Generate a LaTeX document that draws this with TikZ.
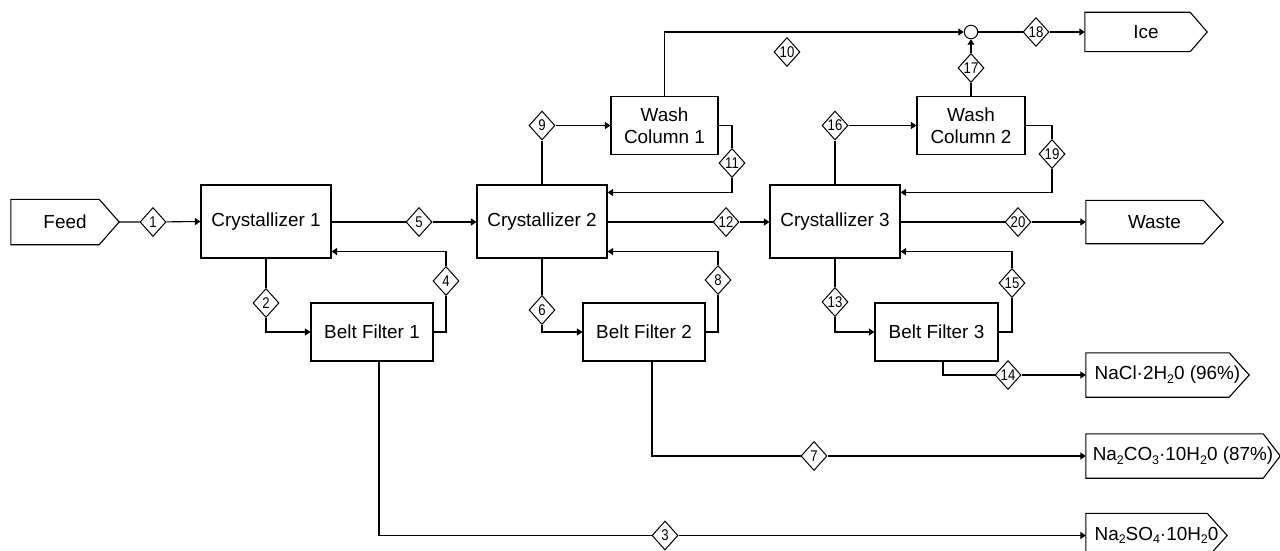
\documentclass[tikz,border=0pt]{standalone}
\usepackage{fontspec}
\setmainfont{Liberation Sans}
\usetikzlibrary{arrows.meta,shapes.geometric,calc}
\newcommand\subs[1]{\raisebox{-0.35ex}{\fontsize{12.5}{12}\selectfont #1}}
\newcommand\dg[1]{\scalebox{0.85}[1]{#1}}
\newcommand\portpath[2]{\draw[ln] (#1.north west) -- ([xshift=-#2]#1.north east) -- (#1.east) -- ([xshift=-#2]#1.south east) -- (#1.south west) -- cycle;}
\tikzset{
  ln/.style={line width=1.1pt, line join=miter},
  flow/.style={ln, -{Triangle[length=5.5pt,width=7pt]}},
  unit/.style={draw, ln, minimum width=130pt, minimum height=73pt, inner sep=0pt, align=center, font=\fontsize{18.9}{22.5}\selectfont},
  belt/.style={unit, minimum width=122pt, minimum height=58pt},
  wash/.style={unit, minimum width=107pt, minimum height=58pt},
  port/.style={inner sep=0pt, minimum height=44pt, font=\fontsize{18.9}{22.5}\selectfont},
  dia/.style={draw, diamond, line width=1pt, minimum width=26pt, minimum height=29pt, inner sep=0pt, fill=white, font=\fontsize{15.5}{16}\selectfont},
  mix/.style={draw, circle, line width=1pt, minimum size=13.5pt, inner sep=0pt}
}
\begin{document}
\begin{tikzpicture}[x=1pt,y=-1pt]
\useasboundingbox (0,0) rectangle (1280,551);
% units
\node[unit] (c1) at (266,221.5) {Crystallizer 1};
\node[unit] (c2) at (542,221.5) {Crystallizer 2};
\node[unit] (c3) at (835,221.5) {Crystallizer 3};
\node[belt] (b1) at (372,332) {Belt Filter 1};
\node[belt] (b2) at (644,332) {Belt Filter 2};
\node[belt, minimum width=123pt] (b3) at (936.5,332) {Belt Filter 3};
\node[wash] (w1) at (664.5,125.5) {Wash\\Column 1};
\node[wash, minimum width=108pt] (w2) at (971,125.5) {Wash\\Column 2};
\node[mix] (mx) at (971,32) {};
% ports
\node[port, minimum width=108pt, minimum height=45pt] (feed) at (65,222) {Feed};
\node[port, minimum width=122pt, minimum height=39pt] (ice) at (1146,32) {Ice};
\node[port, minimum width=137pt, minimum height=43pt] (waste) at (1154.5,222) {Waste};
\node[port, minimum width=163pt] (nacl) at (1167.5,375) {NaCl·2H\subs{2}0 (96\%)};
\node[port, minimum width=194pt] (naco) at (1183,456) {Na\subs{2}CO\subs{3}·10H\subs{2}0 (87\%)};
\node[port, minimum width=141pt] (naso) at (1156.5,535.5) {Na\subs{2}SO\subs{4}·10H\subs{2}0};
\portpath{feed}{20pt}
\portpath{ice}{17pt}
\portpath{waste}{20pt}
\portpath{nacl}{20pt}
\portpath{naco}{17pt}
\portpath{naso}{20pt}
% stream labels
\node[dia] (d1) at (153,222) {\dg{1}};
\node[dia] (d2) at (266,303) {\dg{2}};
\node[dia] (d3) at (665,535.5) {\dg{3}};
\node[dia] (d4) at (446,281) {\dg{4}};
\node[dia] (d5) at (419,222) {\dg{5}};
\node[dia] (d6) at (542,310) {\dg{6}};
\node[dia] (d7) at (814,456) {\dg{7}};
\node[dia] (d8) at (718,280) {\dg{8}};
\node[dia] (d9) at (542,125.5) {\dg{9}};
\node[dia] (d10) at (787,52) {\dg{10}};
\node[dia] (d11) at (732,163) {\dg{11}};
\node[dia] (d12) at (726,222) {\dg{12}};
\node[dia] (d13) at (835,302) {\dg{13}};
\node[dia] (d14) at (1008,375) {\dg{14}};
\node[dia] (d15) at (1012,283) {\dg{15}};
\node[dia] (d16) at (835,125.5) {\dg{16}};
\node[dia] (d17) at (971,68) {\dg{17}};
\node[dia] (d18) at (1036,32) {\dg{18}};
\node[dia] (d19) at (1052,154) {\dg{19}};
\node[dia] (d20) at (1018,222) {\dg{20}};
% helper points
\coordinate (c1r) at ($(c1.south east)+(0,-7)$);
\coordinate (c2r) at ($(c2.south east)+(0,-7)$);
\coordinate (c3r) at ($(c3.south east)+(0,-7)$);
\coordinate (c2t) at ($(c2.north east)+(0,8)$);
\coordinate (c3t) at ($(c3.north east)+(0,8)$);
\coordinate (b1o) at ($(b1.south)+(7,0)$);
\coordinate (b2o) at ($(b2.south)+(8,0)$);
\coordinate (b3o) at ($(b3.south)+(6.5,0)$);
% connectors
\draw[flow] (feed.east) -- (d1) -- (c1.west);
\draw[flow] (c1.east |- d5) -- (d5) -- (c2.west |- d5);
\draw[flow] (c1.south) -- (d2) -- (d2 |- b1.west) -- (b1.west);
\draw[flow] (b1.east) -- (b1.east -| d4) -- (d4) -- (d4 |- c1r) -- (c1r);
\draw[flow] (b1o) -- (b1o |- d3) -- (d3) -- (naso.west);
\draw[flow] (c2.north) -- (d9) -- (w1.west |- d9);
\draw[flow] (w1.north) -- (w1.north |- mx) -- (mx);
\draw[flow] (w1.east) -- (w1.east -| d11) -- (d11) -- (d11 |- c2t) -- (c2t);
\draw[flow] (c2.east |- d12) -- (d12) -- (c3.west |- d12);
\draw[flow] (c2.south) -- (d6) -- (d6 |- b2.west) -- (b2.west);
\draw[flow] (b2.east) -- (b2.east -| d8) -- (d8) -- (d8 |- c2r) -- (c2r);
\draw[flow] (b2o) -- (b2o |- d7) -- (d7) -- (naco.west);
\draw[flow] (c3.north) -- (d16) -- (w2.west |- d16);
\draw[ln] (w2.north) -- (d17);
\draw[flow] (d17) -- (mx);
\draw[flow] (mx) -- (d18) -- (ice.west);
\draw[flow] (w2.east) -- (w2.east -| d19) -- (d19) -- (d19 |- c3t) -- (c3t);
\draw[flow] (c3.east |- d20) -- (d20) -- (waste.west);
\draw[flow] (c3.south) -- (d13) -- (d13 |- b3.west) -- (b3.west);
\draw[flow] (b3.east) -- (b3.east -| d15) -- (d15) -- (d15 |- c3r) -- (c3r);
\draw[flow] (b3o) -- (b3o |- d14) -- (d14) -- (nacl.west);
\end{tikzpicture}
\end{document}
